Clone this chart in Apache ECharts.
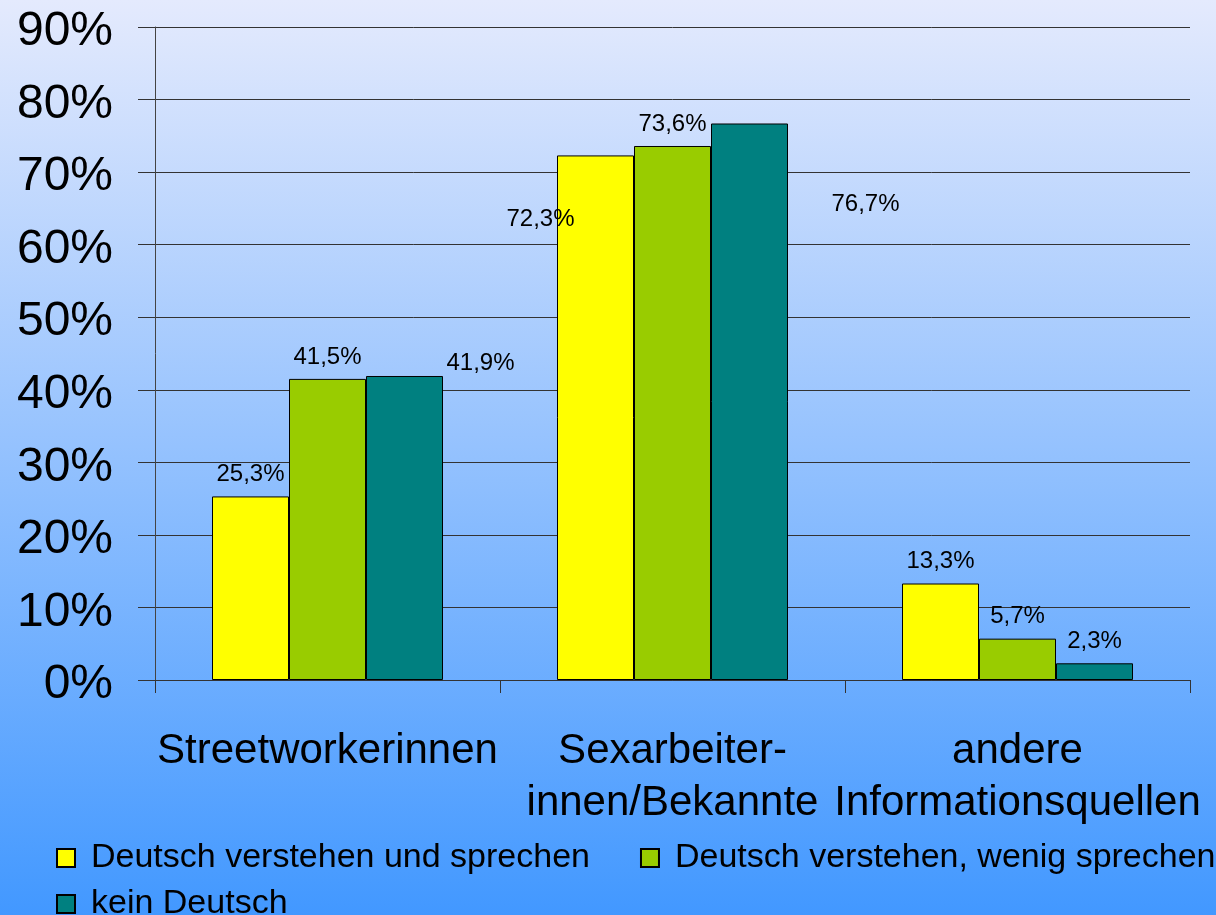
<!DOCTYPE html>
<html>
<head>
<meta charset="utf-8">
<script src="https://cdn.jsdelivr.net/npm/echarts@6/dist/echarts.min.js"></script>
<style>
  html, body { margin: 0; padding: 0; }
  #main { width: 1216px; height: 915px; }
</style>
</head>
<body>
<div id="main"></div>
<script>
var categories = ['Streetworkerinnen', 'Sexarbeiter-\ninnen/Bekannte', 'andere\nInformationsquellen'];
var seriesNames = ['Deutsch verstehen und sprechen', 'Deutsch verstehen, wenig sprechen', 'kein Deutsch'];
var verstehenUndSprechen = [25.3, 72.3, 13.3];
var verstehenWenigSprechen = [41.5, 73.6, 5.7];
var keinDeutsch = [41.9, 76.7, 2.3];
var colors = ['#ffff00', '#99cc00', '#008080'];

var font = 'Liberation Sans, Arial, sans-serif';

// some labels sit away from their bars in the original, keep that
var labelOffsets = [
    [[0, 0], [-55, 86], [0, 0]],
    [[0, 0], [0, 0], [0, 0]],
    [[76, 9], [116, 103], [0, 0]]
];

function makeSeries(idx, values) {
    return {
        name: seriesNames[idx],
        type: 'bar',
        barWidth: 77,
        barGap: '0%',
        itemStyle: { color: colors[idx], borderColor: '#000', borderWidth: 1 },
        label: {
            show: true,
            position: 'top',
            distance: 10,
            color: '#000',
            fontFamily: font,
            fontSize: 24,
            formatter: function (p) { return String(p.value).replace('.', ',') + '%'; }
        },
        data: values.map(function (v, i) {
            return { value: v, label: { offset: labelOffsets[idx][i] } };
        })
    };
}

var chart = echarts.init(document.getElementById('main'));
chart.setOption({
    backgroundColor: {
        type: 'linear', x: 0, y: 0, x2: 0, y2: 1,
        colorStops: [
            { offset: 0, color: '#e4eafd' },
            { offset: 1, color: '#4298ff' }
        ]
    },
    animation: false,
    grid: { left: 155, right: 26, top: 27, bottom: 235 },
    legend: [
        {
            data: [seriesNames[0], seriesNames[1]],
            left: 56, top: 841, padding: 0, width: 1200,
            itemWidth: 18, itemHeight: 18, itemGap: 50,
            icon: 'rect',
            textStyle: { fontFamily: font, fontSize: 34, color: '#000', padding: [0, 0, 0, 11] }
        },
        {
            data: [seriesNames[2]],
            left: 56, top: 887, padding: 0,
            itemWidth: 18, itemHeight: 18,
            icon: 'rect',
            textStyle: { fontFamily: font, fontSize: 34, color: '#000', padding: [0, 0, 0, 11] }
        }
    ],
    xAxis: {
        type: 'category',
        data: categories,
        axisLine: { lineStyle: { color: '#333', width: 1 } },
        axisTick: { show: true, length: 13, lineStyle: { color: '#333' } },
        axisLabel: {
            interval: 0, margin: 45, color: '#000',
            fontFamily: font, fontSize: 42, lineHeight: 52
        }
    },
    yAxis: {
        type: 'value',
        min: 0, max: 90, interval: 10,
        axisLine: { show: true, lineStyle: { color: '#444', width: 1 } },
        axisTick: { show: true, length: 17, lineStyle: { color: '#333' } },
        splitLine: { lineStyle: { color: '#333', width: 1 } },
        axisLabel: {
            margin: 42, color: '#000',
            formatter: '{v|{value}%}',
            rich: {
                v: { fontFamily: font, fontSize: 48, color: '#000', padding: [10, 0, 0, 0] }
            }
        }
    },
    series: [
        makeSeries(0, verstehenUndSprechen),
        makeSeries(1, verstehenWenigSprechen),
        makeSeries(2, keinDeutsch)
    ]
});
</script>
</body>
</html>
